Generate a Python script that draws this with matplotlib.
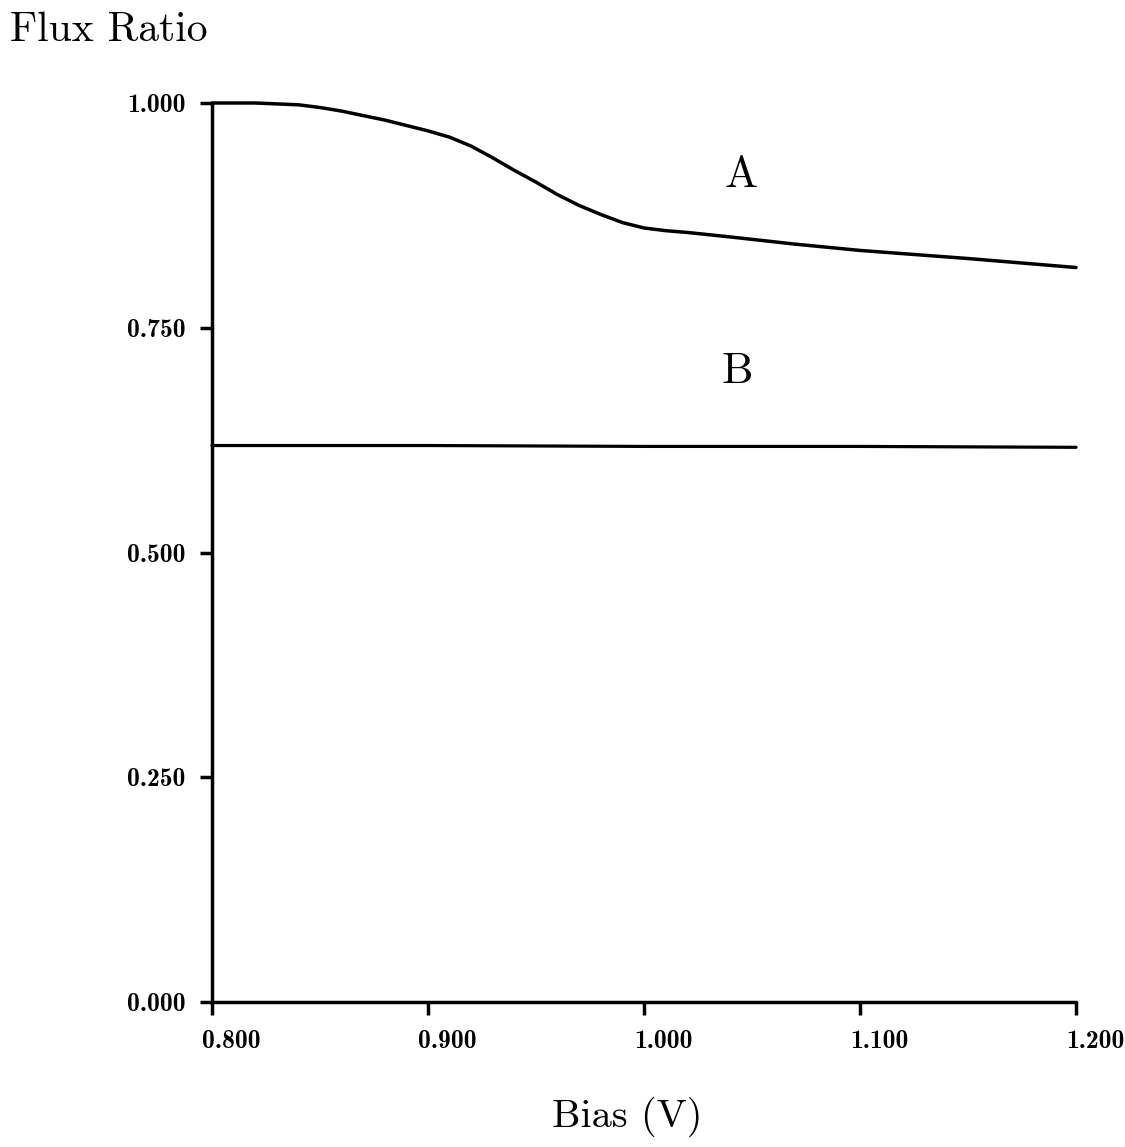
import matplotlib
matplotlib.use("Agg")
import matplotlib.pyplot as plt
from matplotlib.transforms import ScaledTranslation

# curve A (bias in V, flux ratio)
BIAS_A = [0.800, 0.810, 0.820, 0.830, 0.840, 0.850, 0.860, 0.870, 0.880,
          0.890, 0.900, 0.910, 0.920, 0.930, 0.940, 0.950, 0.960, 0.970,
          0.980, 0.990, 1.000, 1.010, 1.020, 1.040, 1.070, 1.100, 1.150,
          1.200]
FLUX_A = [1.000, 1.000, 1.000, 0.999, 0.998, 0.995, 0.991, 0.986, 0.981,
          0.975, 0.969, 0.962, 0.952, 0.939, 0.925, 0.912, 0.898, 0.886,
          0.876, 0.867, 0.861, 0.858, 0.856, 0.851, 0.843, 0.836, 0.827,
          0.817]

# curve B, nearly flat
BIAS_B = [0.800, 0.900, 1.000, 1.100, 1.200]
FLUX_B = [0.619, 0.619, 0.618, 0.618, 0.617]

XTICKS = [0.8, 0.9, 1.0, 1.1, 1.2]
XTICKLABELS = ["0.800", "0.900", "1.000", "1.100", "1.200"]
YTICKS = [0.0, 0.25, 0.5, 0.75, 1.0]
YTICKLABELS = ["0.000", "0.250", "0.500", "0.750", "1.000"]

LW = 2.5

fig = plt.figure(figsize=(11.25, 11.47), dpi=100)
fig.patch.set_facecolor("white")
ax = fig.add_axes([212 / 1125, 1 - 1002 / 1147, 864 / 1125, 899 / 1147])

ax.plot(BIAS_A, FLUX_A, color="black", lw=LW, clip_on=False,
        solid_capstyle="round", solid_joinstyle="round", zorder=3)
ax.plot(BIAS_B, FLUX_B, color="black", lw=LW - 0.2, clip_on=False,
        solid_capstyle="round", zorder=3)

ax.set_xlim(0.8, 1.2)
ax.set_ylim(0.0, 1.0)

for s in ["top", "right"]:
    ax.spines[s].set_visible(False)
for s in ["left", "bottom"]:
    ax.spines[s].set_linewidth(LW)
    ax.spines[s].set_capstyle("round")

ax.set_xticks(XTICKS)
ax.set_xticklabels(XTICKLABELS, fontfamily="cmb10", fontsize=18.5)
ax.set_yticks(YTICKS)
ax.set_yticklabels(YTICKLABELS, fontfamily="cmb10", fontsize=18.5)
ax.tick_params(axis="both", direction="out", length=9, width=LW)
ax.tick_params(axis="x", pad=11)
ax.tick_params(axis="y", pad=10)

# x tick labels sit a little to the right of their ticks in the scan
shift = ScaledTranslation(19 / 100, 0, fig.dpi_scale_trans)
for lab in ax.get_xticklabels():
    lab.set_transform(lab.get_transform() + shift)

ax.text(1.045, 0.919, "A", fontfamily="cmr10", fontsize=32,
        ha="center", va="center")
ax.text(1.043, 0.701, "B", fontfamily="cmr10", fontsize=32,
        ha="center", va="center")

fig.text(10 / 1125, 1 - 30 / 1147, "Flux Ratio", fontfamily="cmr10",
         fontsize=30, ha="left", va="center")
fig.text(627 / 1125, 1 - 1117 / 1147, "Bias (V)", fontfamily="cmr10",
         fontsize=29, ha="center", va="center")

fig.savefig("out.png", dpi=100, facecolor="white")
